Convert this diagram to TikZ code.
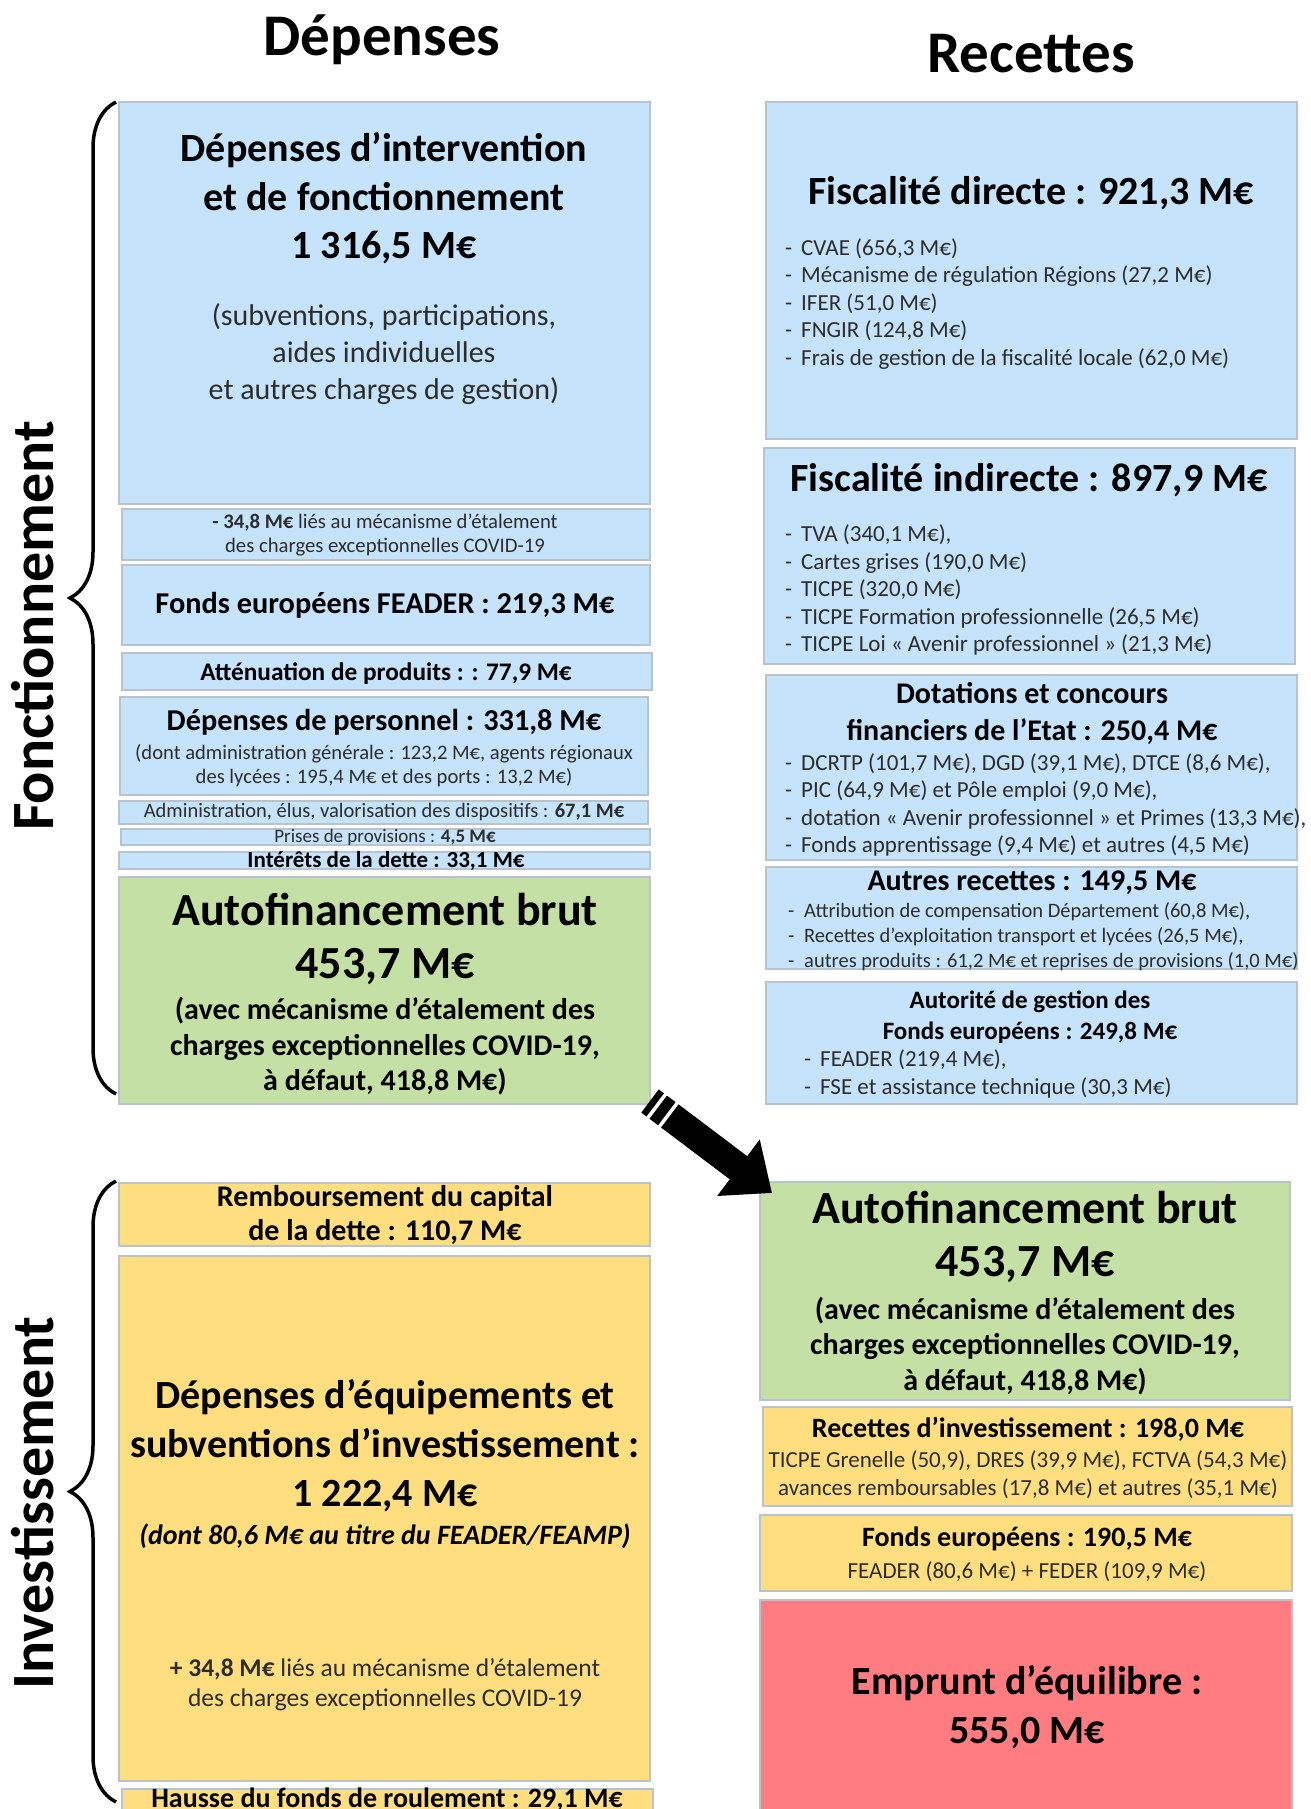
\documentclass[tikz,border=0pt]{standalone}
\usepackage{fontspec}
\setmainfont{Carlito}
\usetikzlibrary{positioning,decorations.pathreplacing,arrows.meta}

\definecolor{bleuF}{RGB}{197,227,250}
\definecolor{vertF}{RGB}{197,224,165}
\definecolor{jauneF}{RGB}{255,222,128}
\definecolor{rougeF}{RGB}{255,125,128}
\definecolor{bordF}{RGB}{185,195,205}
\definecolor{texteG}{RGB}{45,45,45}

\newcommand{\puce}[1]{\makebox[16pt][l]{-}#1}

\tikzset{
	bloc/.style={draw=bordF,line width=1.2pt,fill=#1,inner sep=0,outer sep=0,anchor=north west},
	gras/.style 2 args={inner sep=0,align=center,text=black,font=\bfseries\fontsize{#1}{#2}\selectfont},
	fin/.style 2 args={inner sep=0,align=center,text=texteG,font=\fontsize{#1}{#2}\selectfont},
	liste/.style 2 args={inner sep=0,align=left,anchor=west,text=texteG,font=\fontsize{#1}{#2}\selectfont},
	accol/.style={decorate,decoration={brace,amplitude=46pt},line width=3.5pt},
	fleche/.style={line width=29pt,-{Triangle[length=42pt,width=68pt]}},
	raie/.style={sloped,fill=white,inner sep=0,minimum width=3.5pt,minimum height=34pt}
}

\begin{document}
\begin{tikzpicture}[x=1pt,y=-1pt]
	\useasboundingbox (0,0) rectangle (1311,1809);
	\clip (0,0) rectangle (1311,1809);
	% titres
	\node[gras={59}{70}] (dep) at (382,40) {Dépenses};
	\node[gras={59}{70}] (rec) at (1031,54) {Recettes};
	\node[gras={60}{72},rotate=90,anchor=base] (fonc) at (53,626) {Fonctionnement};
	\node[gras={60}{72},rotate=90,anchor=base] (inv) at (53,1503) {Investissement};
	\draw[accol] (116,1094)--(116,102);
	\draw[accol] (116,1802)--(116,1181);
	% depenses
	\node[bloc=bleuF,minimum width=531,minimum height=402] (dint) at (119,102) {};
	\node[bloc=bleuF,minimum width=528,minimum height=51] (cov) at (122,509) {};
	\node[bloc=bleuF,minimum width=528,minimum height=80] (feadD) at (122,565) {};
	\node[bloc=bleuF,minimum width=530,minimum height=37] (attn) at (122,653) {};
	\node[bloc=bleuF,minimum width=528,minimum height=98] (pers) at (120,697) {};
	\node[bloc=bleuF,minimum width=529,minimum height=23] (admin) at (119,801) {};
	\node[bloc=bleuF,minimum width=529,minimum height=16] (prov) at (121,829) {};
	\node[bloc=bleuF,minimum width=531,minimum height=17] (inter) at (119,852) {};
	\node[bloc=vertF,minimum width=531,minimum height=227] (afD) at (119,877) {};
	\node[bloc=jauneF,minimum width=531,minimum height=63] (remb) at (119,1183) {};
	\node[bloc=jauneF,minimum width=531,minimum height=525] (equip) at (119,1256) {};
	\node[bloc=jauneF,minimum width=531,minimum height=40] (fdr) at (122,1789) {};
	\node[gras={40}{48.5}] (dintT) at (384,198.5) {Dépenses d’intervention\\et de fonctionnement\\1 316,5 M€};
	\node[fin={30}{37}] (dintS) at (384,354) {(subventions, participations,\\aides individuelles\\et autres charges de gestion)};
	\node[fin={20.7}{24}] (covT) at (385,535) {\textbf{- 34,8 M€} liés au mécanisme d’étalement\\des charges exceptionnelles COVID-19};
	\node[gras={30.3}{36}] (feadDT) at (385,605) {Fonds européens FEADER : 219,3 M€};
	\node[gras={25.3}{29}] (attnT) at (386,674) {Atténuation de produits : : 77,9 M€};
	\node[gras={30.3}{35}] (persT) at (384,722) {Dépenses de personnel : 331,8 M€};
	\node[fin={20.6}{24}] (persS) at (384,766) {(dont administration générale : 123,2 M€, agents régionaux\\des lycées : 195,4 M€ et des ports : 13,2 M€)};
	\node[fin={20.5}{22}] (adminT) at (384,812) {Administration, élus, valorisation des dispositifs : \textbf{67,1 M€}};
	\node[fin={19}{20}] (provT) at (385,837) {Prises de provisions : \textbf{4,5 M€}};
	\node[gras={23}{24}] (interT) at (386,861) {Intérêts de la dette : 33,1 M€};
	\node[gras={46}{53}] (afDT) at (385,938.5) {Autofinancement brut\\453,7 M€};
	\node[gras={30}{35.5}] (afDS) at (385,1046.5) {(avec mécanisme d’étalement des\\charges exceptionnelles COVID-19,\\à défaut, 418,8 M€)};
	\node[gras={30}{34}] (rembT) at (385,1215) {Remboursement du capital\\de la dette : 110,7 M€};
	\node[gras={40}{49}] (equipT) at (385,1446) {Dépenses d’équipements et\\subventions d’investissement :\\1 222,4 M€};
	\node[gras={28}{34}] (equipI) at (385,1536) {\itshape (dont 80,6 M€ au titre du FEADER/FEAMP)};
	\node[fin={25.5}{30}] (equipS) at (385,1685) {\textbf{+ 34,8 M€} liés au mécanisme d’étalement\\des charges exceptionnelles COVID-19};
	\node[gras={28}{34}] (fdrT) at (387,1800) {Hausse du fonds de roulement : 29,1 M€};
	% recettes
	\node[bloc=bleuF,minimum width=531,minimum height=337] (fdir) at (766,102) {};
	\node[bloc=bleuF,minimum width=531,minimum height=216] (find) at (764,448) {};
	\node[bloc=bleuF,minimum width=531,minimum height=185] (dot) at (766,675) {};
	\node[bloc=bleuF,minimum width=531,minimum height=102] (autr) at (766,867) {};
	\node[bloc=bleuF,minimum width=531,minimum height=122] (agest) at (766,982) {};
	\node[bloc=vertF,minimum width=530,minimum height=218] (afR) at (760,1182) {};
	\node[bloc=jauneF,minimum width=529,minimum height=99] (rinv) at (763,1407) {};
	\node[bloc=jauneF,minimum width=532,minimum height=76] (feu) at (760,1515) {};
	\node[bloc=rougeF,minimum width=532,minimum height=230] (empr) at (760,1600) {};
	\node[gras={40}{48}] (fdirT) at (1031,193) {Fiscalité directe : 921,3 M€};
	\node[liste={23}{27.5}] (fdirL) at (785,304) {\puce{CVAE (656,3 M€)}\\\puce{Mécanisme de régulation Régions (27,2 M€)}\\\puce{IFER (51,0 M€)}\\\puce{FNGIR (124,8 M€)}\\\puce{Frais de gestion de la fiscalité locale (62,0 M€)}};
	\node[gras={40}{48}] (findT) at (1029,480) {Fiscalité indirecte : 897,9 M€};
	\node[liste={23}{27.5}] (findL) at (785,590) {\puce{TVA (340,1 M€),}\\\puce{Cartes grises (190,0 M€)}\\\puce{TICPE (320,0 M€)}\\\puce{TICPE Formation professionnelle (26,5 M€)}\\\puce{TICPE Loi « Avenir professionnel » (21,3 M€)}};
	\node[gras={30}{37}] (dotT) at (1032,713.5) {Dotations et concours\\financiers de l’Etat : 250,4 M€};
	\node[liste={23}{27.3}] (dotL) at (785,805) {\puce{DCRTP (101,7 M€), DGD (39,1 M€), DTCE (8,6 M€),}\\\puce{PIC (64,9 M€) et Pôle emploi (9,0 M€),}\\\puce{dotation « Avenir professionnel » et Primes (13,3 M€),}\\\puce{Fonds apprentissage (9,4 M€) et autres (4,5 M€)}};
	\node[gras={30}{36}] (autrT) at (1032,883) {Autres recettes : 149,5 M€};
	\node[liste={20.5}{25}] (autrL) at (788,937) {\puce{Attribution de compensation Département (60,8 M€),}\\\puce{Recettes d’exploitation transport et lycées (26,5 M€),}\\\puce{autres produits : 61,2 M€ et reprises de provisions (1,0 M€)}};
	\node[gras={25}{31}] (agestT) at (1030,1017.5) {Autorité de gestion des\\Fonds européens : 249,8 M€};
	\node[liste={23}{28}] (agestL) at (804,1074) {\puce{FEADER (219,4 M€),}\\\puce{FSE et assistance technique (30,3 M€)}};
	\node[gras={46}{53}] (afRT) at (1025,1237) {Autofinancement brut\\453,7 M€};
	\node[gras={30}{35.5}] (afRS) at (1025,1346) {(avec mécanisme d’étalement des\\charges exceptionnelles COVID-19,\\à défaut, 418,8 M€)};
	\node[gras={28}{33}] (rinvT) at (1028,1429) {Recettes d’investissement : 198,0 M€};
	\node[fin={23}{28}] (rinvS) at (1028,1475) {TICPE Grenelle (50,9), DRES (39,9 M€), FCTVA (54,3 M€)\\avances remboursables (17,8 M€) et autres (35,1 M€)};
	\node[gras={28}{33}] (feuT) at (1027,1539) {Fonds européens : 190,5 M€};
	\node[fin={23}{24}] (feuS) at (1027,1572) {FEADER (80,6 M€) + FEDER (109,9 M€)};
	\node[gras={40}{48.5}] (emprT) at (1027,1707) {Emprunt d’équilibre :\\555,0 M€};
	% fleche autofinancement
	\coordinate (flD) at (650,1101);
	\coordinate (flF) at (772,1193);
	\draw[fleche] (flD)--(flF);
	\path (flD)--(flF) node[raie,pos=0.055] (raie1) {} node[raie,pos=0.15] (raie2) {};
\end{tikzpicture}
\end{document}
